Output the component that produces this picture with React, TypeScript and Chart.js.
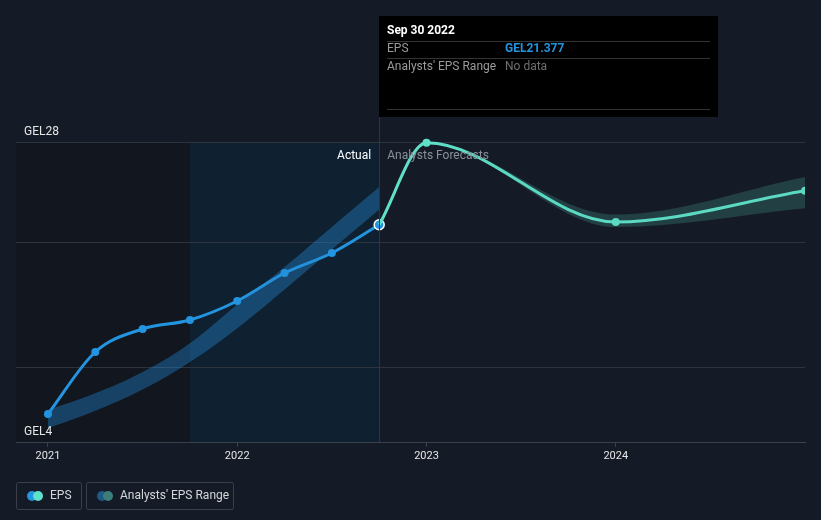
import React, { useEffect, useRef } from "react";
import { Chart, registerables } from "chart.js";

Chart.register(...registerables);

// ---- data ----
const actualX = [2021.0, 2021.25, 2021.5, 2021.75, 2022.0, 2022.25, 2022.5, 2022.75];
const actualEps = [6.24, 11.2, 13.04, 13.76, 15.28, 17.52, 19.12, 21.377];
const pastRangeHigh = [6.56, 7.9, 9.6, 11.9, 15.0, 18.0, 21.2, 24.4];
const pastRangeLow = [5.1, 6.5, 8.2, 10.4, 13.1, 16.2, 19.4, 22.6];

const forecastX = [2022.75, 2023.0, 2024.0, 2025.0];
const forecastEps = [21.377, 27.95, 21.6, 24.1];
const forecastHigh = [21.377, 27.95, 22.2, 25.2];
const forecastLow = [21.377, 27.95, 21.2, 22.7];

const yearTicks = [2021, 2022, 2023, 2024];
const yGridValues = [4, 10, 20, 28];
const yLabelValues = [4, 28];
const xMin = 2020.831;
const xMax = 2025.0;
const yMin = 4;
const yMax = 28;
const highlightStart = 2021.75;
const actualEnd = 2022.75;

const tooltipDate = "Sep 30 2022";
const tooltipEps = "GEL21.377";

const BG = "#151b26";
const BLUE = "#2394df";
const TEAL = "#5fe0c9";
const FONT = "Roboto, 'Noto Sans', sans-serif";

const pts = (xs: number[], ys: number[]) => xs.map((x, i) => ({ x, y: ys[i] }));

// datasets clipped at the right edge of the plot area (forecast ones)
const rightClipped = [2, 3, 4];

const rightClipPlugin = {
  id: "rightClip",
  beforeDatasetDraw(chart: any, args: any) {
    if (!rightClipped.includes(args.index)) return;
    const { ctx, chartArea } = chart;
    ctx.save();
    ctx.beginPath();
    ctx.rect(0, 0, chartArea.right, chart.height);
    ctx.clip();
  },
  afterDatasetDraw(chart: any, args: any) {
    if (!rightClipped.includes(args.index)) return;
    chart.ctx.restore();
  },
};

const decorPlugin = {
  id: "decor",
  beforeDraw(chart: any) {
    const { ctx, chartArea, scales } = chart;
    const x = scales.x;
    ctx.save();
    ctx.fillStyle = BG;
    ctx.fillRect(0, 0, chart.width, chart.height);
    const xs = x.getPixelForValue(highlightStart);
    const xe = x.getPixelForValue(actualEnd);
    ctx.fillStyle = "#11161f";
    ctx.fillRect(chartArea.left, chartArea.top, xs - chartArea.left, chartArea.bottom - chartArea.top);
    ctx.fillStyle = "#0f2131";
    ctx.fillRect(xs, chartArea.top, xe - xs, chartArea.bottom - chartArea.top);
    ctx.restore();
  },
  afterDatasetsDraw(chart: any) {
    const { ctx, chartArea, scales } = chart;
    const x = scales.x;
    const y = scales.y;
    const xe = x.getPixelForValue(actualEnd);
    ctx.save();
    // vertical marker line
    ctx.strokeStyle = "#23374d";
    ctx.lineWidth = 1;
    ctx.beginPath();
    ctx.moveTo(Math.round(xe) + 0.5, 117);
    ctx.lineTo(Math.round(xe) + 0.5, chartArea.bottom);
    ctx.stroke();

    // y labels
    ctx.font = `12px ${FONT}`;
    ctx.fillStyle = "#e6e6e6";
    ctx.textBaseline = "middle";
    ctx.textAlign = "left";
    yLabelValues.forEach((v) => {
      ctx.fillText("GEL" + v, chartArea.left + 8, y.getPixelForValue(v) - 10.5);
    });

    // Actual / Forecast labels
    ctx.font = `12px ${FONT}`;
    ctx.textAlign = "right";
    ctx.fillStyle = "#ffffff";
    ctx.fillText("Actual", xe - 8, chartArea.top + 13.5);
    ctx.textAlign = "left";
    ctx.fillStyle = "#8b9098";
    ctx.fillText("Analysts Forecasts", xe + 8, chartArea.top + 13.5);

    // tooltip box
    const bx = Math.round(xe);
    ctx.fillStyle = "#000000";
    ctx.fillRect(bx, 16, 718 - bx, 101);
    ctx.textAlign = "left";
    ctx.textBaseline = "middle";
    ctx.font = `bold 12px ${FONT}`;
    ctx.fillStyle = "#ffffff";
    ctx.fillText(tooltipDate, bx + 8, 31);
    ctx.strokeStyle = "#333333";
    [41, 58, 109].forEach((ly) => {
      ctx.beginPath();
      ctx.moveTo(bx + 8, ly + 0.5);
      ctx.lineTo(710, ly + 0.5);
      ctx.stroke();
    });
    ctx.font = `12px ${FONT}`;
    ctx.fillStyle = "#9a9a9a";
    ctx.fillText("EPS", bx + 8, 49);
    ctx.fillText("Analysts' EPS Range", bx + 8, 67);
    ctx.font = `bold 12px ${FONT}`;
    ctx.fillStyle = BLUE;
    ctx.fillText(tooltipEps, bx + 126, 49);
    ctx.font = `12px ${FONT}`;
    ctx.fillStyle = "#6f6f6f";
    ctx.fillText("No data", bx + 126, 67);

    // legend
    const box = (lx: number, w: number) => {
      ctx.strokeStyle = "#3a3f49";
      ctx.lineWidth = 1;
      ctx.beginPath();
      (ctx as any).roundRect(lx + 0.5, 482.5, w, 27, 2);
      ctx.stroke();
    };
    box(16, 65);
    box(86, 147);
    const dot = (cx: number, color: string) => {
      ctx.fillStyle = color;
      ctx.beginPath();
      ctx.arc(cx, 496, 5, 0, Math.PI * 2);
      ctx.fill();
    };
    dot(32, BLUE);
    dot(38, TEAL);
    dot(102, "#1f5a86");
    dot(108, "#3d7f78");
    ctx.font = `12px ${FONT}`;
    ctx.fillStyle = "#d4d6da";
    ctx.fillText("EPS", 50, 496);
    ctx.fillText("Analysts' EPS Range", 120, 496);
    ctx.restore();
  },
};

export default function App() {
  const ref = useRef<HTMLCanvasElement | null>(null);
  useEffect(() => {
    document.body.style.margin = "0";
    document.body.style.background = BG;
    if (!ref.current) return;
    const chart = new Chart(ref.current, {
      type: "line",
      data: {
        datasets: [
          {
            label: "pastHigh",
            data: pts(actualX, pastRangeHigh),
            borderWidth: 0,
            pointRadius: 0,
            fill: "+1",
            backgroundColor: "rgba(36,140,215,0.38)",
            tension: 0.4,
          },
          {
            label: "pastLow",
            data: pts(actualX, pastRangeLow),
            borderWidth: 0,
            pointRadius: 0,
            fill: false,
            tension: 0.4,
          },
          {
            label: "fcHigh",
            data: pts(forecastX, forecastHigh),
            borderWidth: 0,
            pointRadius: 0,
            fill: "+1",
            backgroundColor: "rgba(80,190,175,0.22)",
            cubicInterpolationMode: "monotone",
            clip: false as any,
          },
          {
            label: "fcLow",
            data: pts(forecastX, forecastLow),
            borderWidth: 0,
            pointRadius: 0,
            fill: false,
            cubicInterpolationMode: "monotone",
            clip: false as any,
          },
          {
            label: "forecast",
            data: pts(forecastX, forecastEps),
            borderColor: TEAL,
            borderWidth: 3,
            backgroundColor: TEAL,
            pointRadius: [0, 4, 4, 4],
            pointBorderWidth: 0,
            fill: false,
            cubicInterpolationMode: "monotone",
            clip: false as any,
          },
          {
            label: "EPS",
            data: pts(actualX, actualEps),
            borderColor: BLUE,
            borderWidth: 3,
            backgroundColor: BLUE,
            pointRadius: [4, 4, 4, 4, 4, 4, 4, 5],
            pointBorderWidth: [0, 0, 0, 0, 0, 0, 0, 1.5],
            pointBorderColor: "#ffffff",
            fill: false,
            cubicInterpolationMode: "monotone",
            clip: false as any,
          },
        ],
      },
      options: {
        animation: false,
        responsive: false,
        devicePixelRatio: 1,
        layout: { padding: { left: 16, right: 16, top: 142, bottom: 54 } },
        plugins: { legend: { display: false }, tooltip: { enabled: false } },
        scales: {
          x: {
            type: "linear",
            min: xMin,
            max: xMax,
            afterBuildTicks: (s: any) => {
              s.ticks = yearTicks.map((v) => ({ value: v }));
            },
            afterFit: (s: any) => {
              s.height = 24;
            },
            grid: { drawOnChartArea: false, drawTicks: true, tickLength: 5, color: "#3b414c" },
            border: { display: true, color: "#3b414c" },
            ticks: {
              color: "#e6e6e6",
              font: { size: 11, family: FONT },
              padding: 3,
              maxRotation: 0,
              callback: (v: any) => String(v),
            },
          },
          y: {
            type: "linear",
            min: yMin,
            max: yMax,
            afterBuildTicks: (s: any) => {
              s.ticks = yGridValues.map((v) => ({ value: v }));
            },
            afterFit: (s: any) => {
              s.width = 0;
            },
            grid: { color: "#2e343e", drawTicks: false },
            border: { display: false },
            ticks: { display: false },
          },
        },
      },
      plugins: [rightClipPlugin, decorPlugin],
    });
    return () => chart.destroy();
  }, []);
  return <canvas ref={ref} width={821} height={520} style={{ display: "block", width: 821, height: 520 }} />;
}
